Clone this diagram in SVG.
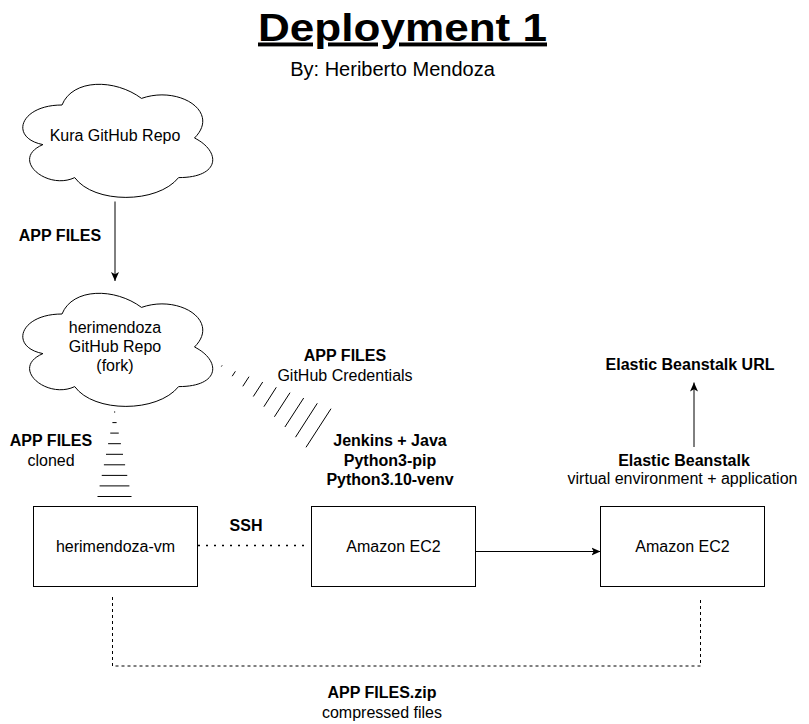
<svg xmlns="http://www.w3.org/2000/svg" width="809" height="724" viewBox="0 0 809 724">
<style>
.t{font-family:"Liberation Sans",Arial,Helvetica,sans-serif;font-size:16px;fill:#000;text-anchor:middle}
.b{font-weight:bold}
.box{fill:#fff;stroke:#000;stroke-width:1}
.cloud{fill:#fff;stroke:#000;stroke-width:1}
.edge{fill:none;stroke:#000;stroke-width:1}
.hatch{stroke:#000;stroke-width:1;stroke-linecap:butt}
</style>
<defs>
<path id="cloudShape" d="M53,33 C10.6,33 0,66 33.92,72.6 C0,87.12 38.16,118.8 65.72,105.6 C84.8,132 148.4,132 169.6,105.6 C212,105.6 212,79.2 185.5,66 C212,39.6 169.6,13.2 132.5,26.4 C106,6.6 63.6,6.6 53,33 Z"/>
<marker id="arrow" markerUnits="userSpaceOnUse" markerWidth="10" markerHeight="9" refX="9" refY="4" orient="auto" viewBox="0 0 10 8">
<path d="M0,0 L9,4 L0,8 L2.2,4 Z" fill="#000"/>
</marker>
</defs>

<g id="title">
<text class="t b" x="402.5" y="40.5" style="font-size:39px;text-decoration:underline" textLength="289" lengthAdjust="spacingAndGlyphs">Deployment 1</text>
<text class="t" x="392.5" y="76" style="font-size:20px">By: Heriberto Mendoza</text>
</g>

<g id="connectors">
<line class="edge" x1="115" y1="201.5" x2="115" y2="281" marker-end="url(#arrow)"/>
<text class="t b" x="60" y="241">APP FILES</text>

<g id="hatch-vertical">
<line class="hatch" x1="114" y1="412" x2="115.2" y2="412"/>
<line class="hatch" x1="112.4" y1="422.6" x2="116.6" y2="422.6"/>
<line class="hatch" x1="110.25" y1="433.1" x2="118.75" y2="433.1"/>
<line class="hatch" x1="108.1" y1="443.7" x2="120.9" y2="443.7"/>
<line class="hatch" x1="106" y1="454.3" x2="123" y2="454.3"/>
<line class="hatch" x1="103.9" y1="464.8" x2="125.1" y2="464.8"/>
<line class="hatch" x1="101.75" y1="475.4" x2="127.25" y2="475.4"/>
<line class="hatch" x1="99.6" y1="485.9" x2="129.4" y2="485.9"/>
<line class="hatch" x1="97.5" y1="496.5" x2="131.5" y2="496.5"/>
</g>
<text class="t b" x="51" y="446">APP FILES</text>
<text class="t" x="51" y="466">cloned</text>

<g id="hatch-diagonal">
<line class="hatch" x1="222.1" y1="365.4" x2="221.4" y2="366.5"/>
<line class="hatch" x1="235.4" y1="371.3" x2="232.2" y2="376.2"/>
<line class="hatch" x1="249.0" y1="376.7" x2="242.8" y2="386.3"/>
<line class="hatch" x1="262.7" y1="382.0" x2="253.3" y2="396.5"/>
<line class="hatch" x1="276.3" y1="387.3" x2="263.9" y2="406.7"/>
<line class="hatch" x1="290.0" y1="392.7" x2="274.4" y2="416.8"/>
<line class="hatch" x1="303.7" y1="398.0" x2="284.9" y2="427.0"/>
<line class="hatch" x1="317.3" y1="403.3" x2="295.5" y2="437.2"/>
<line class="hatch" x1="331.0" y1="408.7" x2="306.0" y2="447.3"/>
</g>
<text class="t b" x="345" y="361">APP FILES</text>
<text class="t" x="345" y="381">GitHub Credentials</text>

<line class="edge" x1="198" y1="545.5" x2="309" y2="545.5" style="stroke-width:1.5;stroke-dasharray:2 6"/>
<text class="t b" x="246" y="531">SSH</text>

<line class="edge" x1="475.5" y1="551.5" x2="600.5" y2="551.5" marker-end="url(#arrow)"/>

<path class="edge" d="M112.5,597 V666 H700.5 V597" style="stroke-dasharray:3 3"/>
<text class="t b" x="382" y="698">APP FILES.zip</text>
<text class="t" x="382" y="718">compressed files</text>

<line class="edge" x1="694" y1="447" x2="694" y2="382.5" marker-end="url(#arrow)"/>
<text class="t b" x="690" y="370">Elastic Beanstalk URL</text>
</g>

<g id="kura-repo">
<use href="#cloudShape" class="cloud" transform="translate(9,72)"/>
<text class="t" x="115" y="141">Kura GitHub Repo</text>
</g>

<g id="fork-repo">
<use href="#cloudShape" class="cloud" transform="translate(9,281)"/>
<text class="t" x="115" y="333">herimendoza</text>
<text class="t" x="115" y="352">GitHub Repo</text>
<text class="t" x="115" y="371">(fork)</text>
</g>

<g id="jenkins-notes">
<text class="t b" x="390" y="446">Jenkins + Java</text>
<text class="t b" x="390" y="465.5">Python3-pip</text>
<text class="t b" x="390" y="485">Python3.10-venv</text>
</g>

<g id="beanstalk-notes">
<text class="t b" x="684" y="465.5">Elastic Beanstalk</text>
<text class="t" x="682.5" y="484">virtual environment + application</text>
</g>

<g id="vm">
<rect class="box" x="33.5" y="506.5" width="164" height="80"/>
<text class="t" x="115.5" y="551.5">herimendoza-vm</text>
</g>

<g id="ec2-jenkins">
<rect class="box" x="311.5" y="506.5" width="164" height="80"/>
<text class="t" x="393.5" y="551.5">Amazon EC2</text>
</g>

<g id="ec2-beanstalk">
<rect class="box" x="600.5" y="506.5" width="164" height="80"/>
<text class="t" x="682.5" y="551.5">Amazon EC2</text>
</g>
</svg>
